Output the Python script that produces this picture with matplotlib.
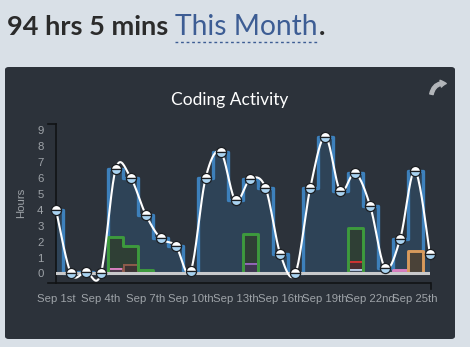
"""Coding activity summary card: daily hours for the month with per-language layers."""

import matplotlib
matplotlib.use("Agg")
import matplotlib.pyplot as plt
import numpy as np
from matplotlib.patches import FancyBboxPatch, FancyArrowPatch
from matplotlib.lines import Line2D

W, H = 470, 347

# Daily totals (hours), Sep 1st .. Sep 26th
days = np.arange(26)
total_hours = [4.0, 0.0, 0.1, 0.0, 6.6, 6.0, 3.7, 2.2, 1.75, 0.15,
               6.0, 7.65, 4.6, 5.95, 5.4, 1.2, 0.0, 5.4, 8.6, 5.2,
               6.3, 4.25, 0.35, 2.15, 6.45, 1.2]

# Per-language hours, stacked bottom to top
lang_lavender = [0] * 20 + [0.28, 0, 0, 0, 0, 0]
lang_pink = [0, 0, 0, 0, 0.32, 0, 0, 0, 0, 0, 0, 0, 0, 0, 0, 0, 0, 0, 0, 0,
             0, 0, 0, 0.2, 0, 0]
lang_brown = [0, 0, 0, 0, 0, 0.6] + [0] * 20
lang_purple = [0] * 13 + [0.68] + [0] * 12
lang_red = [0] * 20 + [0.5, 0, 0, 0, 0, 0]
lang_orange = [0] * 24 + [1.4, 0]
lang_green = [0, 0, 0, 0, 1.98, 1.1, 0.22, 0, 0, 0, 0, 0, 0, 1.82, 0, 0, 0, 0, 0, 0,
              2.05, 0, 0, 0, 0, 0]

layers = [
    (lang_lavender, "#b4c6e0", "#3c4656"),
    (lang_pink, "#d87fc0", "#4a3a4a"),
    (lang_brown, "#8e5b4b", "#3d3434"),
    (lang_purple, "#9266b8", "#3e3650"),
    (lang_red, "#cf3434", "#4a2e32"),
    (lang_orange, "#d89a5c", "#4a4238"),
    (lang_green, "#3d9a3d", "#2f3f35"),
]

tick_days = [0, 3, 6, 9, 12, 15, 18, 21, 24]
tick_labels = ["Sep 1st", "Sep 4th", "Sep 7th", "Sep 10th", "Sep 13th",
               "Sep 16th", "Sep 19th", "Sep 22nd", "Sep 25th"]


def px(x, y):
    return x / W, 1 - y / H


def catmull_rom(xs, ys, n=20):
    xs = np.asarray(xs, float)
    ys = np.asarray(ys, float)
    px_ = np.concatenate([[xs[0]], xs, [xs[-1]]])
    py_ = np.concatenate([[ys[0]], ys, [ys[-1]]])
    out_x, out_y = [], []
    t = np.linspace(0, 1, n, endpoint=False)
    for i in range(1, len(px_) - 2):
        for arr, out in ((px_, out_x), (py_, out_y)):
            p0, p1, p2, p3 = arr[i - 1], arr[i], arr[i + 1], arr[i + 2]
            out.extend(0.5 * (2 * p1 + (-p0 + p2) * t
                              + (2 * p0 - 5 * p1 + 4 * p2 - p3) * t ** 2
                              + (-p0 + 3 * p1 - 3 * p2 + p3) * t ** 3))
    out_x.append(xs[-1])
    out_y.append(ys[-1])
    return np.array(out_x), np.array(out_y)


fig = plt.figure(figsize=(W / 100, H / 100), dpi=100)
fig.patch.set_facecolor("#d9e0e7")

# dark card
x0, y0 = px(5, 339)
x1, y1 = px(455, 67)
fig.patches.append(FancyBboxPatch((x0, y0), x1 - x0, y1 - y0,
                                  boxstyle="round,pad=0,rounding_size=0.008",
                                  transform=fig.transFigure, facecolor="#2c323a",
                                  edgecolor="none", zorder=-5))

# header
hx, hy = px(7, 35)
t1 = fig.text(hx, hy, "94 hrs 5 mins", family="Lato", weight="bold", fontsize=19.5,
              color="#2b2b2b", va="baseline")
fig.canvas.draw()
r = fig.canvas.get_renderer()
bb = t1.get_window_extent(r)
t2 = fig.text((bb.x1 + 7) / W, hy, "This Month", family="Lato", fontsize=20.3,
              color="#3d5d94", va="baseline")
bb2 = t2.get_window_extent(r)
fig.text((bb2.x1 + 1) / W, hy, ".", family="Lato", weight="bold", fontsize=19.5,
         color="#2b2b2b", va="baseline")
fig.add_artist(Line2D([bb2.x0 / W, bb2.x1 / W], [1 - 42 / H] * 2, transform=fig.transFigure,
                      color="#3d5d94", lw=1, ls=(0, (2, 2))))

fig.text(*px(230, 100), "Coding Activity", family="Lato", fontsize=12.5,
         color="white", ha="center", va="center")

# share icon
fig.patches.append(FancyArrowPatch(px(431, 97), px(449, 84), transform=fig.transFigure,
                                   connectionstyle="arc3,rad=-0.55",
                                   arrowstyle="simple,head_width=5,head_length=4,tail_width=2.5",
                                   color="#b3b6ba", zorder=3))

# chart axes: x 56..430 px, y 124..283 px
left, bottom = px(56, 283)
right, top = px(430, 124)
ax = fig.add_axes([left, bottom, right - left, top - bottom], zorder=2)
ax.set_facecolor("none")
ax.set_xlim(0, 25)
ax.set_ylim(-0.6, 9.4)

ax.fill_between(days, 0, total_hours, step="mid", color="#2e4357", lw=0, zorder=1)
ax.step(days, total_hours, where="mid", color="#3d80bb", lw=2.4, zorder=2)

base = np.zeros(len(days))
for vals, edge, face in layers:
    vals = np.asarray(vals, float)
    if not vals.any():
        continue
    upper = base + vals
    ax.fill_between(days, base, upper, step="mid", color=face, lw=0, zorder=3)
    ax.step(days, np.where(vals > 0, upper, 0), where="mid", color=edge, lw=2.1, zorder=3)
    base = upper

ax.axhline(0, color="#c8c9cb", lw=2.2, zorder=4)

cx, cy = catmull_rom(days, total_hours)
ax.plot(cx, cy, color="white", lw=1.5, zorder=5, solid_capstyle="round")
ax.plot(days, total_hours, ls="none", marker="o", ms=7.3, fillstyle="top",
        markerfacecolor="white", markerfacecoloralt="#a8d2f0",
        markeredgecolor="#1b1e22", markeredgewidth=0.9, zorder=6, clip_on=False)

for s in ("top", "right"):
    ax.spines[s].set_visible(False)
for s in ("left", "bottom"):
    ax.spines[s].set_color("#111315")
    ax.spines[s].set_linewidth(1.2)

# outer ticks at the axis ends
fig.add_artist(Line2D([48 / W, 56 / W], [1 - 124 / H] * 2, transform=fig.transFigure,
                      color="#111315", lw=1.2))
fig.add_artist(Line2D([48 / W, 56 / W], [1 - 283 / H] * 2, transform=fig.transFigure,
                      color="#111315", lw=1.2))
fig.add_artist(Line2D([431 / W] * 2, [1 - 283 / H, 1 - 289 / H], transform=fig.transFigure,
                      color="#111315", lw=1.2))

ax.set_xticks(tick_days)
ax.set_xticklabels(tick_labels)
ax.set_yticks(range(10))
ax.tick_params(axis="both", length=0, colors="#9ea3a8", labelsize=8.2,
               labelfontfamily="Liberation Sans")
ax.tick_params(axis="x", pad=8)
ax.tick_params(axis="y", pad=9)
fig.text(*px(21, 203), "Hours", rotation=90, ha="center", va="center",
         family="Liberation Sans", fontsize=8.2, color="#9ea3a8")

fig.savefig("out.png", dpi=100, facecolor=fig.get_facecolor())
